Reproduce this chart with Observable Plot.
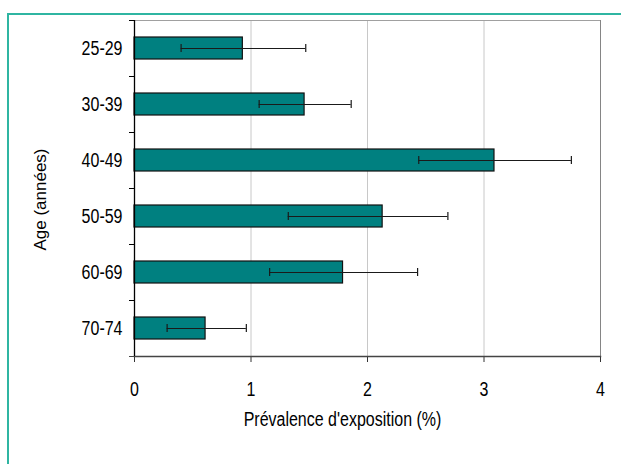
<!DOCTYPE html>
<html>
<head>
<meta charset="utf-8">
<script src="https://cdn.jsdelivr.net/npm/d3@7"></script>
<script src="https://cdn.jsdelivr.net/npm/@observablehq/plot@0.6"></script>
<style>
  html, body { margin: 0; padding: 0; background: #fff; overflow: hidden; }
  #wrap { position: relative; width: 621px; height: 464px; }
  #border { position: absolute; left: 7px; top: 13px; width: 700px; height: 600px;
            border-top: 2px solid #2fb5a2; border-left: 2px solid #2fb5a2; box-sizing: border-box; }
  #chart { position: absolute; left: 0; top: 0; }
</style>
</head>
<body>
<div id="wrap"><div id="border"></div><div id="chart"></div></div>
<script>
const ages = ["25-29", "30-39", "40-49", "50-59", "60-69", "70-74"];
const prevalence = [0.93, 1.46, 3.09, 2.13, 1.79, 0.61];
const ciLow = [0.40, 1.07, 2.44, 1.32, 1.16, 0.28];
const ciHigh = [1.47, 1.86, 3.75, 2.69, 2.43, 0.96];
const xTicks = [0, 1, 2, 3, 4];
const xLabel = "Prévalence d'exposition (%)";
const yLabel = "Age (années)";

const data = ages.map((a, i) => ({age: a, value: prevalence[i], low: ciLow[i], high: ciHigh[i]}));
const font = "'Liberation Sans', Arial, sans-serif";

const chart = Plot.plot({
  width: 621,
  height: 464,
  marginLeft: 134,
  marginRight: 21,
  marginTop: 20,
  marginBottom: 108,
  style: {fontFamily: font, fontSize: "19.5px", color: "black", background: "transparent"},
  x: {domain: [0, 4]},
  y: {domain: ages, padding: 0},
  marks: [
    Plot.gridX([1, 2, 3], {stroke: "#c8c8c8", strokeOpacity: 1}),
    Plot.frame({anchor: "top", stroke: "#a0a0a0"}),
    Plot.frame({anchor: "right", stroke: "#858585"}),
    Plot.barX(data, {x: "value", y: "age", fill: "#008080", stroke: "#111", strokeWidth: 1.2, insetTop: 17, insetBottom: 17}),
    Plot.ruleY(data, {y: "age", x1: "low", x2: "high", stroke: "#1a1a1a", strokeWidth: 1.2}),
    Plot.tickX(data, {x: "low", y: "age", stroke: "#1a1a1a", strokeWidth: 1.2, insetTop: 24, insetBottom: 24}),
    Plot.tickX(data, {x: "high", y: "age", stroke: "#1a1a1a", strokeWidth: 1.2, insetTop: 24, insetBottom: 24}),
    Plot.axisY({tickSize: 0, tickPadding: 12, label: null, fill: "black", fontSize: 19.5}),
    Plot.axisY({ticks: ages, tickSize: 5, text: null, dy: -28, label: null, stroke: "black"}),
    Plot.axisY({ticks: ages.slice(-1), tickSize: 5, text: null, dy: 28, label: null, stroke: "#444"}),
    Plot.axisX({ticks: xTicks, tickFormat: d3.format("d"), tickSize: 6, tickPadding: 20, label: null, stroke: "#333", fill: "black", fontSize: 19.5}),
    Plot.frame({anchor: "bottom", stroke: "#444", strokeWidth: 1.5}),
    Plot.ruleX([0], {stroke: "black", strokeWidth: 1.3}),
    Plot.text([xLabel], {text: d => d, frameAnchor: "bottom", dx: -25, dy: 69, fontSize: 19.5, fill: "black"}),
    Plot.text([yLabel], {text: d => d, frameAnchor: "left", textAnchor: "middle", dx: -94, dy: 11, rotate: -90, fontSize: 17, fill: "black"})
  ]
});
document.getElementById("chart").appendChild(chart);

// condense the horizontal text (reference uses a narrow sans font)
chart.querySelectorAll("text").forEach(t => {
  const tr = t.getAttribute("transform") || "";
  if (tr.includes("rotate")) return;
  t.setAttribute("transform", (tr + " scale(0.82,1)").trim());
  const x = t.getAttribute("x");
  if (x) t.setAttribute("x", +x / 0.82);
});
</script>
</body>
</html>
